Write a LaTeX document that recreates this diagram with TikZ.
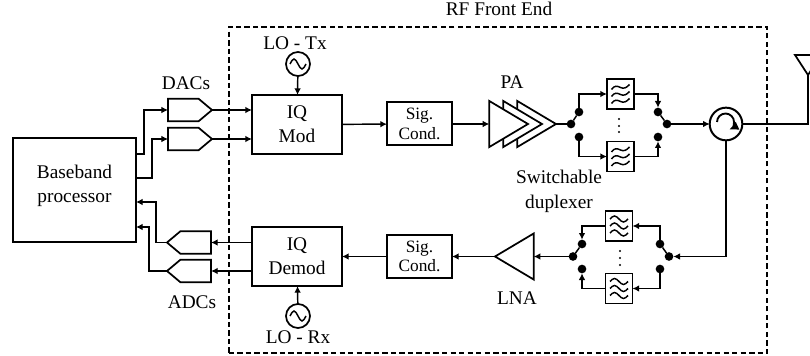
\documentclass[tikz,border=0pt]{standalone}
\usepackage{fontspec}
\setmainfont{Liberation Serif}
\usetikzlibrary{arrows.meta,shapes.geometric,shapes.symbols}

\begin{document}
\begin{tikzpicture}[->,>={Latex[length=5pt,width=5pt]},x=0.75pt,y=-0.75pt,line width=1.1pt,font=\fontsize{14.5}{18}\selectfont]
    \tikzstyle{blockbox}=[draw=black,line width=1.5pt,fill=white,align=center,inner sep=0pt,outer sep=0pt]
    \tikzstyle{iqbox}=[blockbox,minimum width=67.5pt,minimum height=44.25pt]
    \tikzstyle{sigbox}=[blockbox,minimum width=48.75pt,minimum height=32.25pt,font=\fontsize{13}{14.5}\selectfont]
    \tikzstyle{converter}=[draw=black,line width=1.3pt,signal,minimum width=33pt,minimum height=17pt,signal pointer angle=80,inner sep=0pt,outer sep=0pt]
    \tikzstyle{amp}=[draw=black,line width=1.3pt,fill=white,isosceles triangle,isosceles triangle stretches,inner sep=0pt,outer sep=0pt,minimum width=34.5pt,minimum height=29pt]
    \tikzstyle{swdot}=[circle,fill=black,minimum size=6.5pt,inner sep=0pt,outer sep=0pt]
    \tikzstyle{smalldot}=[circle,fill=black,minimum size=1.6pt,inner sep=0pt,outer sep=0pt]
    \tikzstyle{filtertx}=[blockbox,line width=1.3pt,minimum width=20.25pt,minimum height=22.5pt,path picture={
        \foreach \dy in {-7,0,7}
            \draw[-,line width=1.1pt,shift={(path picture bounding box.center)}] (-9,\dy+2.5) .. controls (-6,\dy-2) and (-3,\dy-1) .. (0,\dy+0.5) .. controls (3,\dy+2) and (6,\dy+1) .. (9,\dy-2.5);}]
    \tikzstyle{filterrx}=[blockbox,line width=1.3pt,minimum width=20.25pt,minimum height=22.5pt,path picture={
        \foreach \dy in {-7,0,7}
            \draw[-,line width=1.1pt,shift={(path picture bounding box.center)}] (-9,\dy) sin (-4.5,\dy-3) cos (0,\dy) sin (4.5,\dy+3) cos (9,\dy);}]
    \tikzstyle{osc}=[circle,draw=black,line width=1.3pt,minimum size=18pt,inner sep=0pt,outer sep=0pt,path picture={
        \draw[-,line width=1.1pt,shift={(path picture bounding box.center)}] (-8,0) sin (-4,-5) cos (0,0) sin (4,5) cos (8,0);}]

    % clip and frame
    \clip (0,0) rectangle (810,356);
    \node[draw=black,dashed,dash pattern=on 4pt off 2.4pt,line width=1.5pt,minimum width=404pt,minimum height=244.5pt,inner sep=0pt] (frontend) at (498,190) {};
    \node (frontendlabel) at (499,9) {RF Front End};

    % baseband and converters
    \node[blockbox,minimum width=92.25pt,minimum height=78pt,label={[align=center,yshift=3pt]center:Baseband\\processor}] (baseband) at (74.5,190) {};
    \node[converter,anchor=west] (dacA) at (168,110) {};
    \node[converter,anchor=west] (dacB) at (168,139) {};
    \node (daclabel) at (186,83) {DACs};
    \node[converter,signal to=west,anchor=east] (adcA) at (211,242.5) {};
    \node[converter,signal to=west,anchor=east] (adcB) at (211,271) {};
    \node (adclabel) at (192,302) {ADCs};
    \coordinate (bbtxa) at (136,154);
    \coordinate (bbtxb) at (136,178);
    \coordinate (bbrxa) at (136,202);
    \coordinate (bbrxb) at (136,227);

    % mixers and oscillators
    \node[iqbox] (iqmod) at (297,124.5) {IQ\\Mod};
    \node[iqbox] (iqdemod) at (297,256.5) {IQ\\Demod};
    \node[osc] (lotx) at (298,64) {};
    \node[osc] (lorx) at (298,316) {};
    \node (lotxlabel) at (295,43) {LO - Tx};
    \node (lorxlabel) at (298,337) {LO - Rx};
    \coordinate (modina) at (252,110);
    \coordinate (modinb) at (252,139);
    \coordinate (demoda) at (252,242.5);
    \coordinate (demodb) at (252,271);

    % signal conditioning
    \node[sigbox] (sigtx) at (419.5,124) {Sig.\\Cond.};
    \node[sigbox] (sigrx) at (419.5,256.5) {Sig.\\Cond.};

    % amplifiers
    \node[amp,anchor=apex] (paC) at (556,124) {};
    \node[amp,anchor=apex] (paB) at (542,124) {};
    \node[amp,anchor=apex] (paA) at (528,124) {};
    \node (palabel) at (512,82) {PA};
    \node[amp,shape border rotate=180,anchor=apex] (lna) at (495,256.5) {};
    \node (lnalabel) at (517,298) {LNA};
    \node[align=center] (duplabel) at (559,191.5) {Switchable\\[0.6pt]duplexer};

    % switches and filters, transmit
    \node[swdot] (swtxl) at (571,124) {};
    \node[swdot] (swtxlu) at (579,112) {};
    \node[swdot] (swtxld) at (579,137) {};
    \node[swdot] (swtxr) at (667,124) {};
    \node[swdot] (swtxru) at (658,112) {};
    \node[swdot] (swtxrd) at (658,137) {};
    \node[filtertx] (filttxa) at (620.5,94) {};
    \node[filtertx] (filttxb) at (620.5,156.5) {};
    \foreach \dy in {119,126,132}
        \node[smalldot] (dotstx\dy) at (619,\dy) {};

    % switches and filters, receive
    \node[swdot] (swrxl) at (573,256.5) {};
    \node[swdot] (swrxlu) at (582,244) {};
    \node[swdot] (swrxld) at (582,269) {};
    \node[swdot] (swrxr) at (669,256.5) {};
    \node[swdot] (swrxru) at (660,244) {};
    \node[swdot] (swrxrd) at (660,269) {};
    \node[filterrx] (filtrxa) at (619,226) {};
    \node[filterrx] (filtrxb) at (619,288.5) {};
    \foreach \dy in {251,258,265}
        \node[smalldot] (dotsrx\dy) at (620,\dy) {};

    % circulator and antenna
    \node[circle,draw=black,line width=1.5pt,minimum size=24.5pt,inner sep=0pt,outer sep=0pt] (circ) at (726,124) {};
    \node[amp,shape border rotate=-90,minimum width=19.5pt,minimum height=15pt,anchor=apex] (ant) at (808,75) {};
    \draw[line width=1.4pt,>={Latex[length=7pt,width=7pt]}] (717,122) arc[start angle=180,end angle=425,radius=8.5];

    \draw[line width=0.8pt] (bbtxa) -- ++(8,0) |- (dacA.west);
    \draw[line width=0.8pt] (bbtxb) -- ++(16,0) |- (dacB.west);
    \draw[line width=0.8pt] (adcA.west) -- ++(-11,0) |- (bbrxa);
    \draw[line width=0.8pt] (adcB.west) -- ++(-18,0) |- (bbrxb);
    \path
        (dacA)      edge                (modina)
        (dacB)      edge                (modinb)
        (demoda)    edge                (adcA)
        (demodb)    edge                (adcB)
        (lotx)      edge                (iqmod)
        (lorx)      edge                (iqdemod)
        (iqmod)     edge                (sigtx)
        (sigtx)     edge                (paA.lower side)
        (sigrx)     edge                (iqdemod)
        (lna.apex)  edge                (sigrx)
        (swrxl)     edge                (lna.lower side)
        (paC.apex)  edge[-]             (swtxl)
        (swtxl)     edge[-]             (swtxlu)
        (swtxr)     edge[-]             (swtxru)
        (swrxl)     edge[-]             (swrxlu)
        (swrxr)     edge[-]             (swrxru)
        (swtxr)     edge                (circ);
    \draw (swtxlu) |- (filttxa);
    \draw (swtxld) |- (filttxb);
    \draw (filttxa) -| (swtxru);
    \draw (filttxb) -| (swtxrd);
    \draw (swrxru) |- (filtrxa);
    \draw (swrxrd) |- (filtrxb);
    \draw (filtrxa) -| (swrxlu);
    \draw (filtrxb) -| (swrxld);
    \draw (circ) |- (swrxr);
    \draw[-] (circ) -| (ant.apex);
\end{tikzpicture}
\end{document}
